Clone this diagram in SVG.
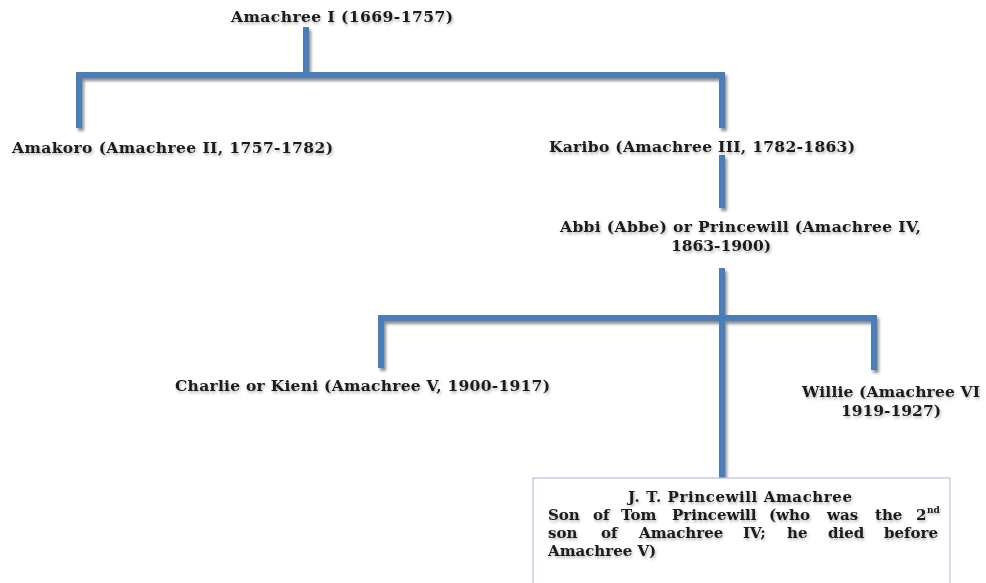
<svg xmlns="http://www.w3.org/2000/svg" width="986" height="583" viewBox="0 0 986 583">
<defs>
<filter id="ls" filterUnits="userSpaceOnUse" x="0" y="0" width="986" height="583">
<feGaussianBlur in="SourceAlpha" stdDeviation="1.6"/>
<feOffset dx="2" dy="3" result="b"/>
<feComponentTransfer><feFuncA type="linear" slope="0.45"/></feComponentTransfer>
<feMerge><feMergeNode/><feMergeNode in="SourceGraphic"/></feMerge>
</filter>
<filter id="ts" x="-5%" y="-30%" width="110%" height="160%">
<feGaussianBlur in="SourceAlpha" stdDeviation="1.4"/>
<feOffset dx="1" dy="2"/>
<feComponentTransfer><feFuncA type="linear" slope="0.3"/></feComponentTransfer>
<feMerge><feMergeNode/><feMergeNode in="SourceGraphic"/></feMerge>
</filter>
</defs>
<style>
.lbl{font-family:"DejaVu Serif","Liberation Serif",serif;font-weight:bold;font-size:15.5px;fill:#1b1b1b;filter:url(#ts)}
.box{font-family:"DejaVu Serif","Liberation Serif",serif;font-weight:bold;font-size:15px;fill:#1b1b1b;filter:url(#ts)}
.sup{font-size:9px}
.ln{fill:none;stroke:#4A7EBB;stroke-width:6;stroke-linejoin:miter}
</style>
<rect width="986" height="583" fill="#ffffff"/>
<g id="connectors" filter="url(#ls)">
<path class="ln" d="M306 27 V75"/>
<path class="ln" d="M79 128 V75 H722 V128"/>
<path class="ln" d="M722 155 V208"/>
<path class="ln" d="M722 268 V478"/>
<path class="ln" d="M381 368 V318 H874 V370"/>
</g>
<g id="n-amachree1"><text class="lbl" x="231" y="22" textLength="222">Amachree I (1669-1757)</text></g>
<g id="n-amakoro"><text class="lbl" x="12" y="153" textLength="321">Amakoro (Amachree II, 1757-1782)</text></g>
<g id="n-karibo"><text class="lbl" x="549" y="152" textLength="306">Karibo (Amachree III, 1782-1863)</text></g>
<g id="n-abbi">
<text class="lbl" x="560" y="232" textLength="361">Abbi (Abbe) or Princewill (Amachree IV,</text>
<text class="lbl" x="721" y="251" text-anchor="middle">1863-1900)</text>
</g>
<g id="n-charlie"><text class="lbl" x="175" y="391" textLength="375">Charlie or Kieni (Amachree V, 1900-1917)</text></g>
<g id="n-willie">
<text class="lbl" x="802" y="397" textLength="178">Willie (Amachree VI</text>
<text class="lbl" x="891" y="416" text-anchor="middle">1919-1927)</text>
</g>
<g id="n-jt">
<rect x="533" y="478" width="417" height="130" fill="#ffffff" stroke="#B4C4DA" stroke-width="1.2"/>
<text class="box" x="740" y="502" text-anchor="middle" textLength="224">J. T. Princewill Amachree</text>
<text class="box" y="520"><tspan x="548">Son</tspan><tspan x="593">of</tspan><tspan x="621">Tom</tspan><tspan x="672">Princewill</tspan><tspan x="769">(who</tspan><tspan x="827">was</tspan><tspan x="875">the</tspan><tspan x="916">2</tspan><tspan class="sup" x="927" y="513">nd</tspan></text>
<text class="box" y="538"><tspan x="548">son</tspan><tspan x="601">of</tspan><tspan x="639">Amachree</tspan><tspan x="743">IV;</tspan><tspan x="787">he</tspan><tspan x="828">died</tspan></text>
<text class="box" x="938" y="538" text-anchor="end">before</text>
<text class="box" x="548" y="556">Amachree V)</text>
</g>
</svg>
